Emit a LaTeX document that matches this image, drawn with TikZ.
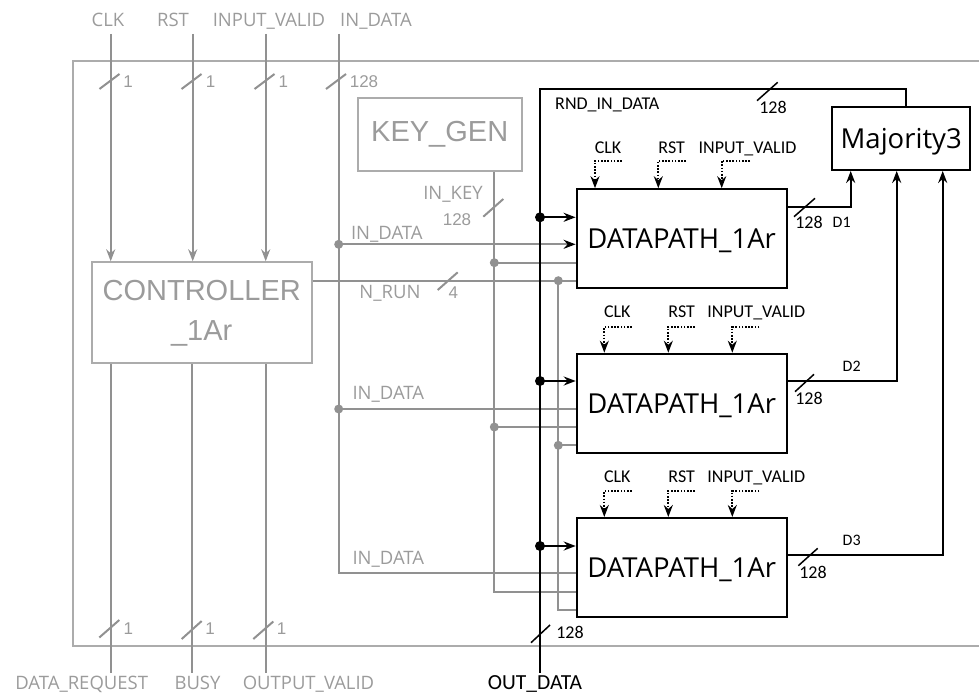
\documentclass[tikz,border=0pt]{standalone}
\usepackage{fontspec}
\setmainfont{Open Sans}
\newfontfamily\calfont{Carlito}
\newfontfamily\arialfont{Liberation Sans}
\usetikzlibrary{arrows.meta}
\definecolor{wiregray}{RGB}{145,145,145}
\definecolor{boxgray}{RGB}{172,172,172}
\definecolor{textgray}{RGB}{155,155,155}

\begin{document}
\begin{tikzpicture}[x=1pt, y=-1pt,
    >={Stealth[length=12pt,width=9pt,inset=4pt]},
    wire/.style={line width=2pt},
    gwire/.style={draw=wiregray, line width=2pt},
    ctlwire/.style={->, line width=1.8pt, dash pattern=on 1.6pt off 1.6pt},
    block/.style={draw, fill=white, line width=2pt, inner sep=0pt, text depth=0pt,
      minimum width=210pt, minimum height=99pt, font=\fontsize{27.5}{32}\selectfont},
    gblock/.style={draw=boxgray, line width=2pt, inner sep=0pt, text=textgray,
      font=\arialfont\fontsize{29}{40}\selectfont},
    glabel/.style={text=textgray, inner sep=0pt, text height=13pt, text depth=0pt,
      font=\fontsize{18.5}{20}\selectfont},
    blabel/.style={inner sep=0pt, text height=11.6pt, text depth=0pt,
      font=\calfont\fontsize{18}{20}\selectfont},
    gwidth/.style={text=textgray, inner sep=0pt, text height=12.2pt, text depth=0pt,
      font=\arialfont\fontsize{17}{20}\selectfont},
    bdot/.style={circle, fill, inner sep=0pt, minimum size=10pt},
    gdot/.style={circle, fill=wiregray, inner sep=0pt, minimum size=9pt}]

  \useasboundingbox (0,0) rectangle (979,695);

  % outer frame
  \draw[draw=boxgray, line width=2pt] (979,61) -- (73,61) -- (73,646) -- (979,646);

  % blocks
  \node[gblock, minimum width=220pt, minimum height=101pt, align=center] (ctrl) at (201.7,312.8) {CONTROLLER\\\_1Ar};
  \node[gblock, minimum width=164pt, minimum height=72.7pt] (keygen) at (439.7,134.3) {KEY\_GEN};
  \node[block, minimum width=137.7pt, minimum height=63.3pt] (maj) at (901.2,138.3) {Majority3};
  \node[block] (dp1) at (681.6,238.7) {DATAPATH\_1Ar};
  \node[block] (dp2) at (681.7,403.2) {DATAPATH\_1Ar};
  \node[block] (dp3) at (681.7,567.5) {DATAPATH\_1Ar};

  % top inputs of the controller
  \node[glabel] (clk) at (108,20) {CLK};
  \node[glabel] (rst) at (173,20) {RST};
  \node[glabel] (ivalid) at (269,20) {INPUT\_VALID};
  \node[glabel, anchor=west] (indata) at (340,20) {IN\_DATA};
  \coordinate (clkin) at (110.7,34);
  \coordinate (rstin) at (192.7,34);
  \coordinate (ivin) at (265.7,34);
  \coordinate (idin) at (338.7,34);
  \draw[gwire,->] (clkin) -- (clkin |- ctrl.north);
  \draw[gwire,->] (rstin) -- (rstin |- ctrl.north);
  \draw[gwire,->] (ivin) -- (ivin |- ctrl.north);
  \draw[gwire] (99.5,89) -- (119.5,74);
  \draw[gwire] (181.5,89) -- (201.5,74);
  \draw[gwire] (254.5,89) -- (274.5,74);
  \draw[gwire] (326,89) -- (346,74);
  \node[gwidth] (wclk) at (128,81) {1};
  \node[gwidth] (wrst) at (210.5,81) {1};
  \node[gwidth] (wiv) at (283.3,81) {1};
  \node[gwidth] (wid) at (364,81) {128};

  % outputs of the controller
  \coordinate (dreq) at (110.7,673);
  \coordinate (busy) at (192.3,673);
  \coordinate (ovalid) at (265.7,673);
  \draw[gwire] (dreq |- ctrl.south) -- (dreq);
  \draw[gwire] (busy |- ctrl.south) -- (busy);
  \draw[gwire] (ovalid |- ctrl.south) -- (ovalid);
  \draw[gwire] (99.3,637.5) -- (119.3,620);
  \draw[gwire] (181.7,639) -- (201.7,621);
  \draw[gwire] (253.3,639) -- (273.3,621.5);
  \node[gwidth] (wdreq) at (128.3,628.3) {1};
  \node[gwidth] (wbusy) at (210,628.3) {1};
  \node[gwidth] (wov) at (281.7,628.3) {1};
  \node[glabel] (ldreq) at (81.7,683.3) {DATA\_REQUEST};
  \node[glabel] (lbusy) at (197.5,683.3) {BUSY};
  \node[glabel] (lov) at (308.5,683.3) {OUTPUT\_VALID};

  % IN_DATA distribution
  \node[gdot] (i1) at (338.7,244.3) {};
  \node[gdot] (i2) at (338.7,409) {};
  \coordinate (i3) at (338.7,573.3);
  \draw[gwire] (idin) -- (i3) -- (i3 -| dp3.west);
  \draw[gwire,-{Stealth[length=12pt,width=9pt,inset=4pt,color=black]}] (i1.center) -- (i1 -| dp1.west);
  \draw[gwire] (i2.center) -- (i2 -| dp2.west);
  \node[glabel] (lid1) at (386.8,232.7) {IN\_DATA};
  \node[glabel] (lid2) at (388.3,393.3) {IN\_DATA};
  \node[glabel] (lid3) at (388.3,557.7) {IN\_DATA};

  % IN_KEY distribution
  \node[gdot] (k1) at (494.3,262.7) {};
  \node[gdot] (k2) at (494.3,427) {};
  \coordinate (k3) at (494.3,591.7);
  \draw[gwire] (k1 |- keygen.south) -- (k3) -- (k3 -| dp3.west);
  \draw[gwire] (k1.center) -- (k1 -| dp1.west);
  \draw[gwire] (k2.center) -- (k2 -| dp2.west);
  \draw[gwire] (483.3,216.7) -- (503.3,199);
  \node[glabel] (linkey) at (453,192.7) {IN\_KEY};
  \node[gwidth] (wkey) at (457,219.3) {128};

  % N_RUN distribution
  \node[gdot] (n1) at (558.3,280.7) {};
  \node[gdot] (n2) at (558.3,445.3) {};
  \coordinate (n3) at (558.3,610);
  \draw[gwire] (n1 -| ctrl.east) -- (n1 -| dp1.west);
  \draw[gwire] (n1.center) -- (n3) -- (n3 -| dp3.west);
  \draw[gwire] (n2.center) -- (n2 -| dp2.west);
  \draw[gwire] (437.7,290) -- (457.7,272.3);
  \node[glabel] (lnrun) at (390,292.3) {N\_RUN};
  \node[gwidth] (wnrun) at (453.3,292.3) {4};

  % RND_IN_DATA bus and OUT_DATA
  \coordinate (mt) at (906,89);
  \coordinate (rtop) at (540,89);
  \coordinate (obot) at (540,673);
  \draw[wire] (mt |- maj.north) -- (mt) -- (rtop) -- (obot);
  \node[bdot] (r1) at (540,217.3) {};
  \node[bdot] (r2) at (540,381) {};
  \node[bdot] (r3) at (540,546) {};
  \draw[wire,->] (r1.center) -- (r1 -| dp1.west);
  \draw[wire,->] (r2.center) -- (r2 -| dp2.west);
  \draw[wire,->] (r3.center) -- (r3 -| dp3.west);
  \draw[line width=1.5pt] (757,100.7) -- (777.7,82.3);
  \node[blabel] (lrnd) at (607.3,103.3) {RND\_IN\_DATA};
  \node[blabel] (wrnd) at (773,107.3) {128};
  \draw[line width=1.5pt] (531,642.7) -- (550,625);
  \node[blabel] (wout) at (570,632.7) {128};
  \node[blabel, font=\calfont\fontsize{21.5}{24}\selectfont, text height=13.8pt] (lout) at (535,682.7) {OUT\_DATA};

  % control inputs of the datapaths
  \node[blabel] (clka) at (608,147.7) {CLK};
  \node[blabel] (rsta) at (671.7,147.7) {RST};
  \node[blabel] (iva) at (747.5,147.7) {INPUT\_VALID};
  \coordinate (clkas) at (621.7,160.7);
  \coordinate (rstas) at (686,160.7);
  \coordinate (ivas) at (750,160.7);
  \draw[ctlwire] (clkas) -| (595,0 |- dp1.north);
  \draw[ctlwire] (rstas) -| (658.3,0 |- dp1.north);
  \draw[ctlwire] (ivas) -| (721.7,0 |- dp1.north);

  \node[blabel] (clkb) at (617.3,311.7) {CLK};
  \node[blabel] (rstb) at (681.7,311.7) {RST};
  \node[blabel] (ivb) at (756.3,311.7) {INPUT\_VALID};
  \coordinate (clkbs) at (631.7,326.7);
  \coordinate (rstbs) at (695,326.7);
  \coordinate (ivbs) at (759.3,326.7);
  \draw[ctlwire] (clkbs) -| (604.3,0 |- dp2.north);
  \draw[ctlwire] (rstbs) -| (668.3,0 |- dp2.north);
  \draw[ctlwire] (ivbs) -| (732.3,0 |- dp2.north);

  \node[blabel] (clkc) at (617.3,476.7) {CLK};
  \node[blabel] (rstc) at (681.7,476.7) {RST};
  \node[blabel] (ivc) at (756.3,476.7) {INPUT\_VALID};
  \coordinate (clkcs) at (631.7,490.7);
  \coordinate (rstcs) at (695,490.7);
  \coordinate (ivcs) at (759.3,490.7);
  \draw[ctlwire] (clkcs) -| (604.3,0 |- dp3.north);
  \draw[ctlwire] (rstcs) -| (668.3,0 |- dp3.north);
  \draw[ctlwire] (ivcs) -| (732.3,0 |- dp3.north);

  % datapath outputs to the voter
  \coordinate (o1) at (850.7,206.7);
  \coordinate (o2) at (896.7,380.7);
  \coordinate (o3) at (942.7,555);
  \draw[wire,->] (o1 -| dp1.east) -- (o1) -- (o1 |- maj.south);
  \draw[wire,->] (o2 -| dp2.east) -- (o2) -- (o2 |- maj.south);
  \draw[wire,->] (o3 -| dp3.east) -- (o3) -- (o3 |- maj.south);
  \draw[line width=1.5pt] (794,216.7) -- (815,198.3);
  \draw[line width=1.5pt] (795,391.7) -- (814,374.3);
  \draw[line width=1.5pt] (798.3,565.7) -- (817.7,548.3);
  \node[blabel] (wo1) at (809,223) {128};
  \node[blabel] (wo2) at (809,398.3) {128};
  \node[blabel] (wo3) at (813,572.7) {128};
  \node[blabel, font=\calfont\fontsize{16}{18}\selectfont, text height=10.3pt] (ld1) at (841.7,222) {D1};
  \node[blabel, font=\calfont\fontsize{16}{18}\selectfont, text height=10.3pt] (ld2) at (851.7,366) {D2};
  \node[blabel, font=\calfont\fontsize{16}{18}\selectfont, text height=10.3pt] (ld3) at (851.7,540) {D3};

\end{tikzpicture}
\end{document}
